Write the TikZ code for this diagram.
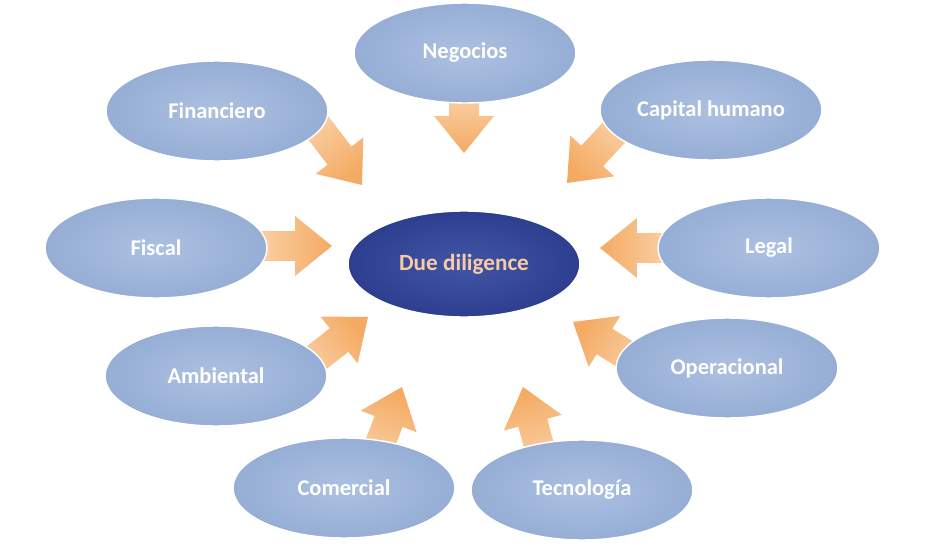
\documentclass[tikz,border=0pt]{standalone}
\usepackage{fontspec}
\setmainfont{Carlito}
\usetikzlibrary{shapes.geometric, calc}

\definecolor{ovallight}{RGB}{172,192,225}
\definecolor{ovaldark}{RGB}{128,156,201}
\definecolor{duelight}{RGB}{66,86,166}
\definecolor{duedark}{RGB}{26,38,118}
\definecolor{arrowlight}{RGB}{250,208,166}
\definecolor{arrowdark}{RGB}{244,170,98}
\definecolor{peach}{RGB}{248,202,166}

\pgfdeclareradialshading{ovalglow}{\pgfpoint{0bp}{0bp}}{color(0bp)=(ovallight); color(50bp)=(ovaldark)}
\pgfdeclareradialshading{dueglow}{\pgfpoint{0bp}{0bp}}{color(0bp)=(duelight); color(50bp)=(duedark)}

\begin{document}
\begin{tikzpicture}[x=0.02cm, y=-0.02cm,
        oval/.style={ellipse, minimum width=4.44cm, minimum height=2cm, inner sep=0pt,
            draw=white, line width=0.8pt, shade, shading=ovalglow, text=white,
            font=\fontsize{12.8}{15}\selectfont\bfseries},
        due/.style={oval, minimum width=4.64cm, minimum height=2.12cm, shading=dueglow,
            text=peach, font=\fontsize{13.2}{15}\selectfont\bfseries}]
    \useasboundingbox (0,0) rectangle (934,554);

    % Block arrows: tail x/y, tip x/y (tails sit under the ovals)
    \foreach \tx/\ty/\hx/\hy in {464/95/464/153, 313/121/362/185, 621/125/567/183,
            258/246/332/246, 670/248/600/248, 305/367/368/317, 641/364/573/322,
            373/462/402/387, 544/464/523/387}{
        \pgfmathsetmacro{\shadeang}{atan2(\ty-\hy,\hx-\tx)-90}
        \coordinate (tail) at (\tx,\ty);
        \coordinate (tip) at (\hx,\hy);
        \coordinate (base) at ($(tip)!0.74cm!(tail)$);
        \shade[top color=arrowdark, bottom color=arrowlight, shading angle=\shadeang]
            ($(tail)!0.3cm!90:(tip)$) -- ($(base)!0.3cm!90:(tip)$) -- ($(base)!0.6cm!90:(tip)$)
            -- (tip) -- ($(base)!0.6cm!-90:(tip)$) -- ($(base)!0.3cm!-90:(tip)$)
            -- ($(tail)!0.3cm!-90:(tip)$) -- cycle;
    }

    % Centre
    \node[due] (due) at (464,264) {Due diligence};

    % Areas
    \node[oval] (negocios) at (465,53) {Negocios};
    \node[oval] (financiero) at (217,111) {Financiero};
    \node[oval] (capital) at (711,110) {Capital humano};
    \node[oval] (fiscal) at (156,248) {Fiscal};
    \node[oval] (legal) at (769,248) {Legal};
    \node[oval] (ambiental) at (216,376) {Ambiental};
    \node[oval] (operacional) at (727,368) {Operacional};
    \node[oval] (comercial) at (344,488) {Comercial};
    \node[oval] (tecnologia) at (582,490) {Tecnología};
\end{tikzpicture}
\end{document}
